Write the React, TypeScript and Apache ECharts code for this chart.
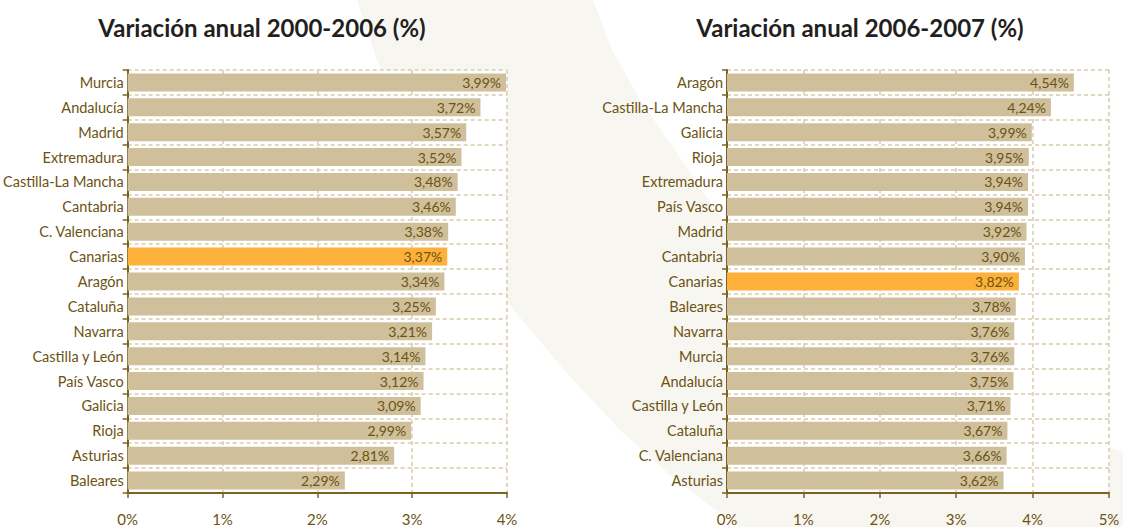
import React, { useEffect, useRef } from "react";
import * as echarts from "echarts";

const leftCategories = [
  "Murcia", "Andalucía", "Madrid", "Extremadura", "Castilla-La Mancha", "Cantabria",
  "C. Valenciana", "Canarias", "Aragón", "Cataluña", "Navarra", "Castilla y León",
  "País Vasco", "Galicia", "Rioja", "Asturias", "Baleares",
];
const leftValues = [3.99, 3.72, 3.57, 3.52, 3.48, 3.46, 3.38, 3.37, 3.34, 3.25, 3.21, 3.14, 3.12, 3.09, 2.99, 2.81, 2.29];

const rightCategories = [
  "Aragón", "Castilla-La Mancha", "Galicia", "Rioja", "Extremadura", "País Vasco",
  "Madrid", "Cantabria", "Canarias", "Baleares", "Navarra", "Murcia", "Andalucía",
  "Castilla y León", "Cataluña", "C. Valenciana", "Asturias",
];
const rightValues = [4.54, 4.24, 3.99, 3.95, 3.94, 3.94, 3.92, 3.90, 3.82, 3.78, 3.76, 3.76, 3.75, 3.71, 3.67, 3.66, 3.62];

const leftTitle = "Variación anual 2000-2006 (%)";
const rightTitle = "Variación anual 2006-2007 (%)";
const highlight = "Canarias";

const FONT = "Lato, 'Open Sans', sans-serif";
const TEXT = "#6b5312";
const AXIS = "#7d6320";
const BAR = "#cfbf9b";
const HIGH = "#fdb03a";
const GRIDLINE = "#d8cbab";
const BAND = "#f8f6f0";

function makeData(cats: string[], vals: number[]) {
  return vals.map((v, i) =>
    cats[i] === highlight ? { value: v, itemStyle: { color: HIGH } } : { value: v }
  );
}

function xAxisCfg(gridIndex: number, max: number) {
  return {
    type: "value",
    gridIndex,
    min: 0,
    max,
    interval: 1,
    axisLine: { show: true, lineStyle: { color: AXIS, width: 2 } },
    axisTick: { show: true, length: 5, lineStyle: { color: AXIS, width: 1.5 } },
    axisLabel: {
      formatter: (v: number) => v + "%",
      color: TEXT,
      fontFamily: FONT,
      fontSize: 15,
      margin: 18,
    },
    splitLine: { show: true, lineStyle: { color: GRIDLINE, type: [4, 3], width: 1.5 } },
  };
}

function yAxisCfg(gridIndex: number, cats: string[]) {
  return {
    type: "category",
    gridIndex,
    data: cats,
    inverse: true,
    axisLine: { show: true, lineStyle: { color: AXIS, width: 2 } },
    axisTick: { show: true, length: 5, lineStyle: { color: AXIS, width: 1.5 } },
    axisLabel: { color: TEXT, fontFamily: FONT, fontSize: 14.5, margin: 4 },
    splitLine: { show: true, lineStyle: { color: GRIDLINE, type: [4, 3], width: 1.5 } },
  };
}

function seriesCfg(idx: number, cats: string[], vals: number[]) {
  return {
    type: "bar",
    xAxisIndex: idx,
    yAxisIndex: idx,
    barWidth: 18,
    itemStyle: { color: BAR },
    data: makeData(cats, vals),
    label: {
      show: true,
      position: "insideRight",
      distance: 5,
      color: TEXT,
      fontFamily: FONT,
      fontSize: 14,
      formatter: (p: any) => Number(p.value).toFixed(2).replace(".", ",") + "%",
    },
  };
}

export default function App() {
  const ref = useRef<HTMLDivElement>(null);
  useEffect(() => {
    if (!ref.current) return;
    const chart = echarts.init(ref.current, null, { renderer: "svg" });
    chart.setOption({
      animation: false,
      backgroundColor: "#ffffff",
      graphic: [
        {
          type: "polygon",
          z: -100,
          silent: true,
          shape: {
            points: [
              [350, -10], [357, 0], [377, 60], [401, 120], [431, 180], [470, 245], [508, 303],
              [564, 370], [620, 430], [670, 475], [715, 510], [744, 530], [744, 540],
              [1140, 540], [1140, 460], [1123, 452], [1000, 405], [900, 355], [800, 285],
              [727, 225], [705, 195], [675, 150], [640, 100], [612, 50], [593, 0], [590, -10],
            ],
          },
          style: { fill: BAND },
        },
        {
          type: "text",
          x: 262,
          y: 27,
          style: {
            text: leftTitle,
            fill: "#231f20",
            font: `bold 24px ${FONT}`,
            textAlign: "center",
            textVerticalAlign: "middle",
          },
        },
        {
          type: "text",
          x: 860,
          y: 27,
          style: {
            text: rightTitle,
            fill: "#231f20",
            font: `bold 24px ${FONT}`,
            textAlign: "center",
            textVerticalAlign: "middle",
          },
        },
      ],
      grid: [
        { left: 126, width: 381, top: 70, height: 423, show: true, backgroundColor: "#ffffff", borderWidth: 0 },
        { left: 727, width: 382, top: 70, height: 423, show: true, backgroundColor: "#ffffff", borderWidth: 0 },
      ],
      xAxis: [xAxisCfg(0, 4), xAxisCfg(1, 5)],
      yAxis: [yAxisCfg(0, leftCategories), yAxisCfg(1, rightCategories)],
      series: [seriesCfg(0, leftCategories, leftValues), seriesCfg(1, rightCategories, rightValues)],
    });
    return () => chart.dispose();
  }, []);
  return (
    <div
      ref={ref}
      style={{ position: "fixed", left: 0, top: 0, width: 1123, height: 527 }}
    />
  );
}
